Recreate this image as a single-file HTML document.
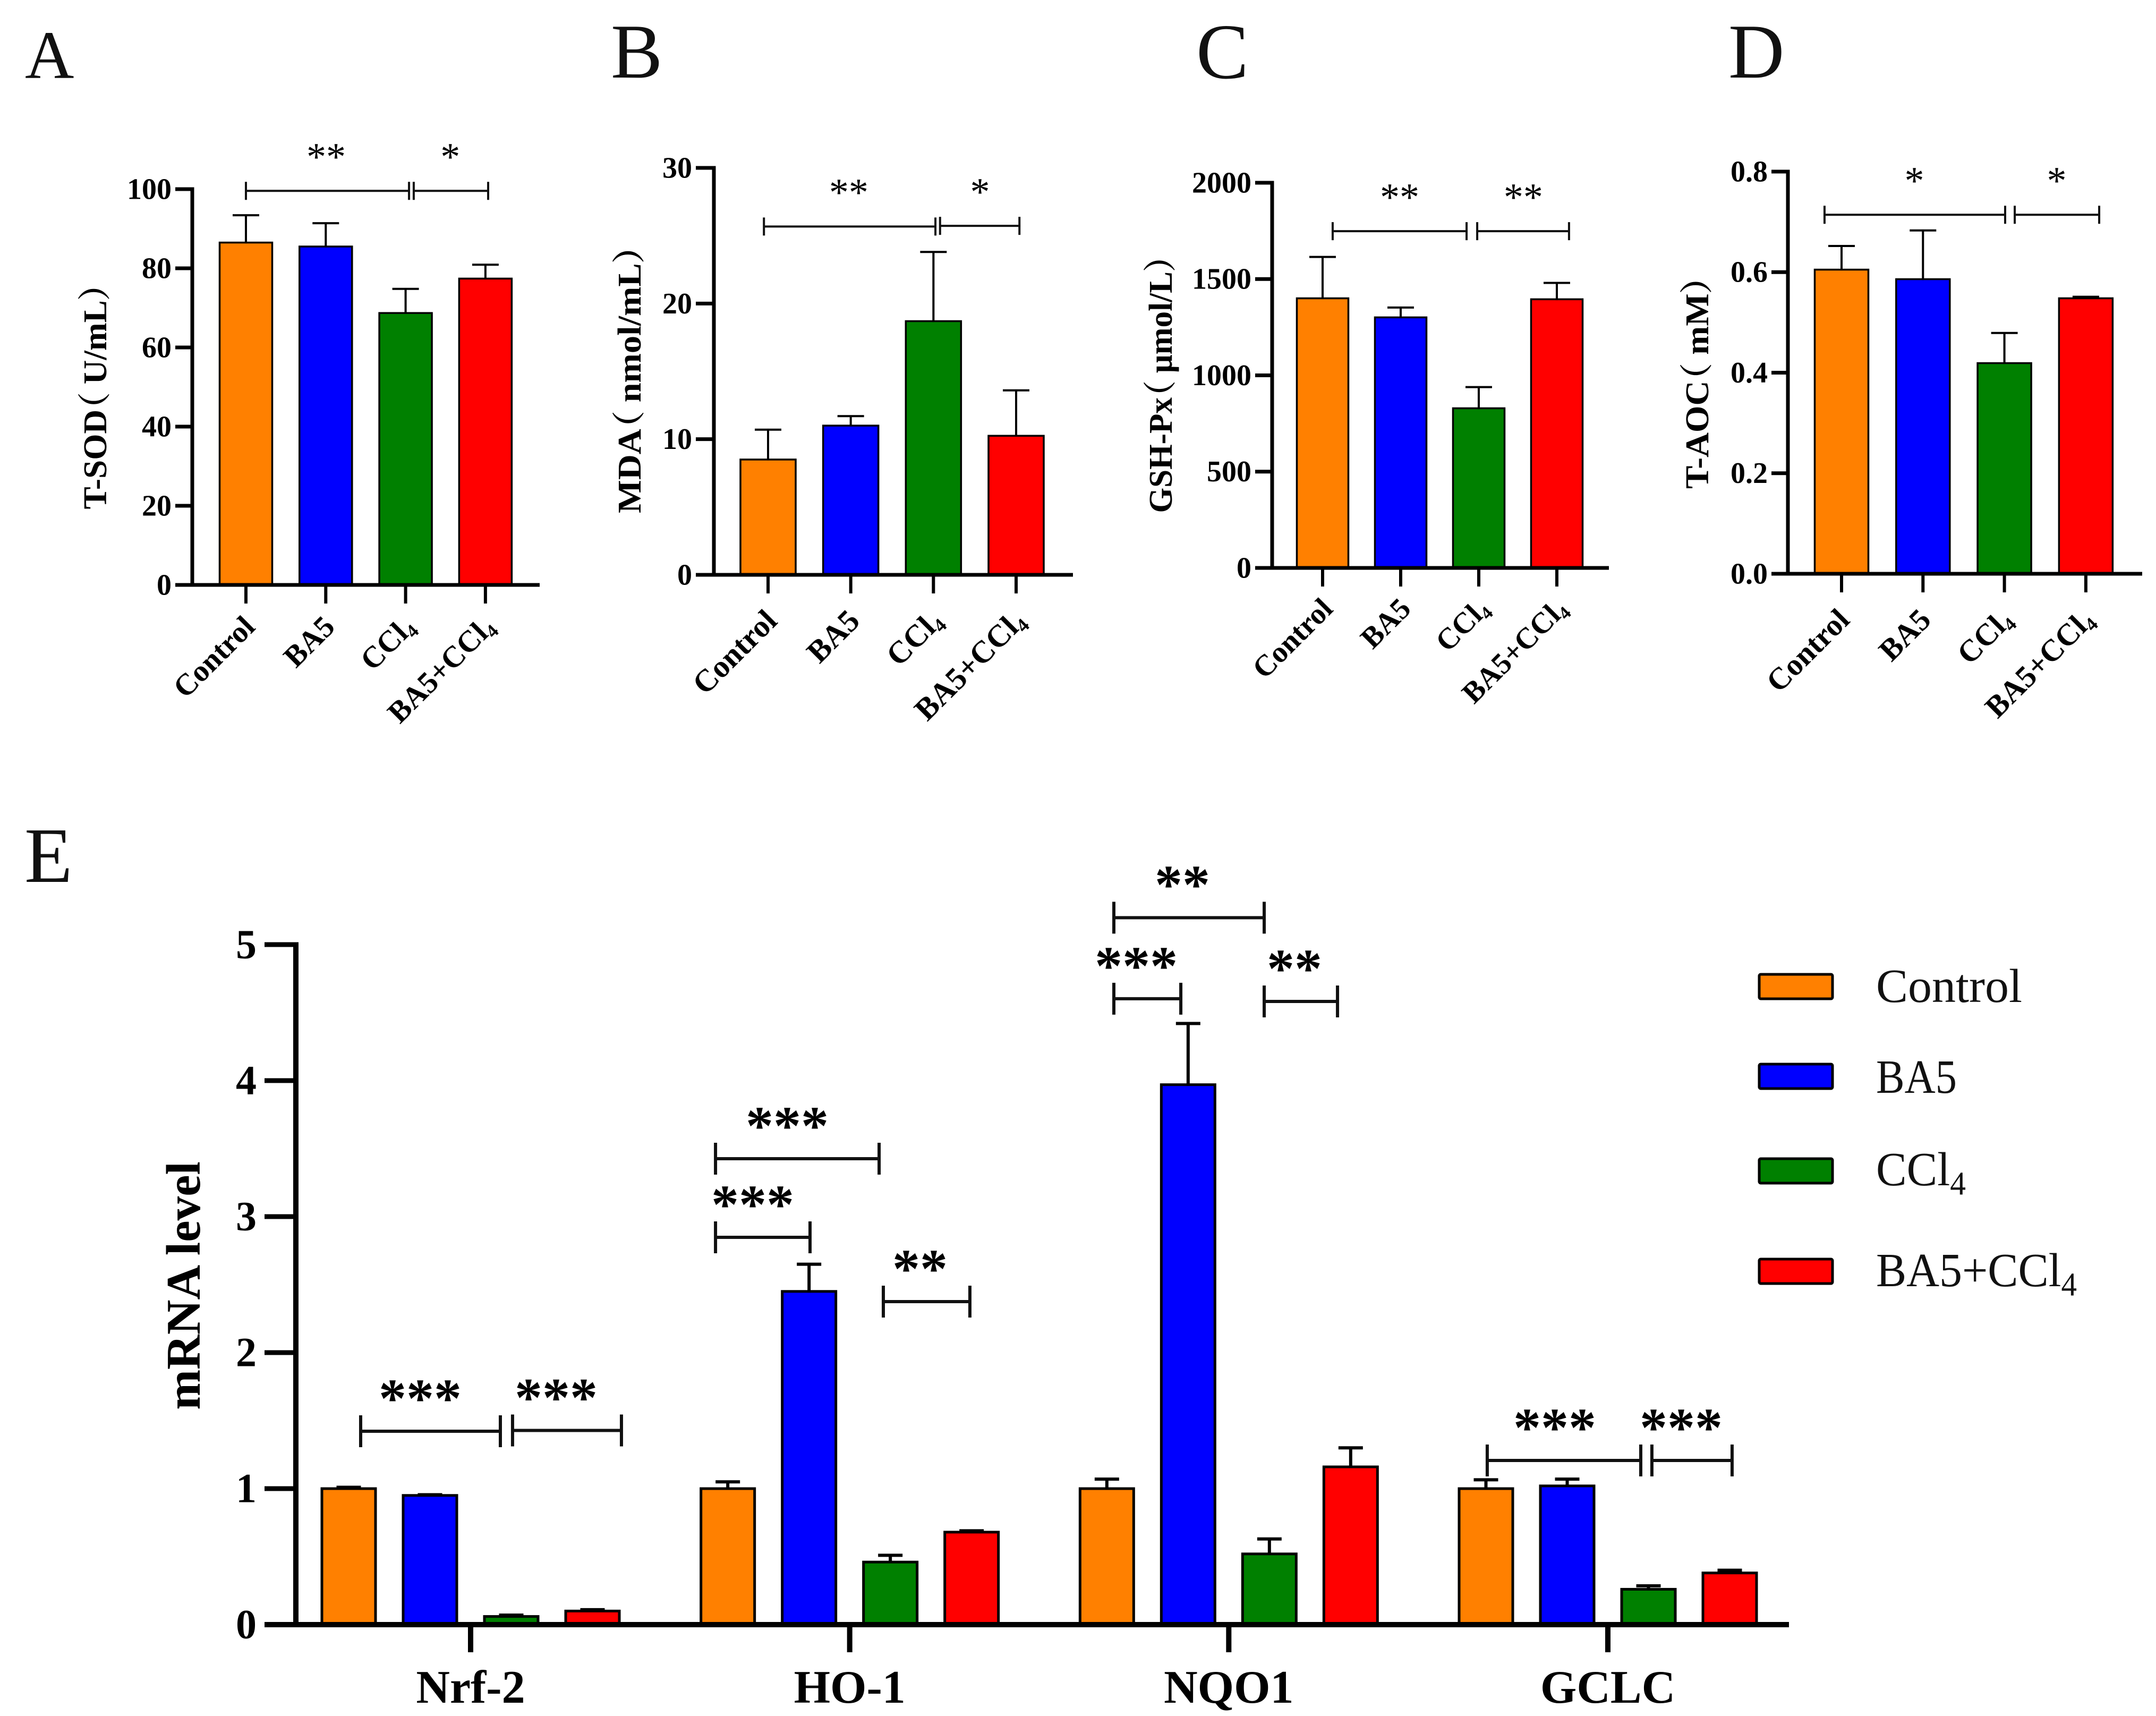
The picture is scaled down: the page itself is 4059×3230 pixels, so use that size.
<!DOCTYPE html>
<html>
<head>
<meta charset="utf-8">
<title>Antioxidant markers and mRNA levels</title>
<style>
html,body{margin:0;padding:0;background:#fff;}
svg{display:block;font-family:"Liberation Serif","Noto Serif CJK SC",serif;}
</style>
</head>
<body>
<svg id="figure" xmlns="http://www.w3.org/2000/svg" width="4059" height="3230" viewBox="0 0 4059 3230">
<rect width="4059" height="3230" fill="#fff"/>
</svg>
<script>
const groupNames = ['Control', 'BA5', 'CCl4', 'BA5+CCl4'];
const groupColors = ['#ff8000', '#0000ff', '#008000', '#ff0000'];

const sodValues = [86.5, 85.5, 68.7, 77.4];
const sodErrors = [6.9, 5.9, 6.1, 3.5];
const sodTicks = [0, 20, 40, 60, 80, 100];

const mdaValues = [8.5, 11, 18.7, 10.25];
const mdaErrors = [2.2, 0.7, 5.1, 3.35];
const mdaTicks = [0, 10, 20, 30];

const gshValues = [1400, 1301, 829, 1395];
const gshErrors = [215, 51, 110, 85];
const gshTicks = [0, 500, 1000, 1500, 2000];

const aocValues = [0.605, 0.586, 0.419, 0.548];
const aocErrors = [0.047, 0.097, 0.06, 0.003];
const aocTicks = ['0.0', '0.2', '0.4', '0.6', '0.8'];

const geneNames = ['Nrf-2', 'HO-1', 'NQO1', 'GCLC'];
const mrnaTicks = [0, 1, 2, 3, 4, 5];
const controlMrna = [1.0, 1.0, 1.0, 1.0];
const controlMrnaErr = [0.01, 0.05, 0.07, 0.065];
const ba5Mrna = [0.95, 2.45, 3.97, 1.02];
const ba5MrnaErr = [0.005, 0.2, 0.45, 0.05];
const ccl4Mrna = [0.06, 0.46, 0.52, 0.26];
const ccl4MrnaErr = [0.01, 0.05, 0.11, 0.025];
const comboMrna = [0.10, 0.68, 1.16, 0.38];
const comboMrnaErr = [0.01, 0.01, 0.14, 0.02];

const svg = document.getElementById('figure');
const NS = 'http://www.w3.org/2000/svg';

function mk(tag, attrs, parent) {
  const e = document.createElementNS(NS, tag);
  for (const k in attrs) e.setAttribute(k, attrs[k]);
  (parent || svg).appendChild(e);
  return e;
}
function line(p, x1, y1, x2, y2, w, color) {
  return mk('line', {x1: x1, y1: y1, x2: x2, y2: y2, stroke: color || '#000', 'stroke-width': w}, p);
}
function setLabel(t, label, subSize) {
  if (label.endsWith('CCl4')) {
    t.appendChild(document.createTextNode(label.slice(0, -1)));
    const s = mk('tspan', {'font-size': subSize, dy: subSize * 0.28}, t);
    s.textContent = '4';
  } else {
    t.textContent = label;
  }
}

function makeAxes(g, o) {
  const ax = line(g, o.x0, o.yTop - o.tickW / 2, o.x0, o.y0, o.axisW);
  
  
  const xa = line(g, o.xLeft, o.y0, o.xRight, o.y0, o.axisW);
  
  
  o.ticks.forEach(function (v) {
    const y = o.y(+v);
    const tm = line(g, o.xLeft, y, o.x0, y, o.tickW);
    
    
    const tl = mk('text', {x: o.xLeft - o.labelGap, y: y + o.tickFont * 0.33, 'text-anchor': 'end', 'font-size': o.tickFont, 'font-weight': 'bold', fill: '#000'}, g);
    tl.textContent = v;
    
    
  });
}

function drawBar(g, id, cx, bw, o, value, err, color) {
  const yTop = o.y(value);
  const yErr = o.y(value + err);
  const ev = line(g, cx, yTop, cx, yErr, o.errW);
  
  
  const cap = line(g, cx - o.capW / 2, yErr, cx + o.capW / 2, yErr, o.errW);
  
  
  const r = mk('rect', {x: cx - bw / 2, y: yTop, width: bw, height: Math.max(0, o.y0 - yTop), fill: color, stroke: '#000', 'stroke-width': o.barStroke}, g);
  
  
}

function bracket(g, id, xA, xB, xLabel, yv, label, o) {
  const y = o.y(yv) - o.brShift;
  const x1 = o.x(xA), x2 = o.x(xB);
  const b = mk('path', {d: 'M' + x1 + ' ' + (y - o.capH) + 'V' + (y + o.capH) + 'M' + x1 + ' ' + y + 'H' + x2 + 'M' + x2 + ' ' + (y - o.capH) + 'V' + (y + o.capH), fill: 'none', stroke: '#111', 'stroke-width': o.brW}, g);
  
  
  const t = mk('text', {x: o.x(xLabel), y: y - o.starUp + o.starFont * 0.47, 'text-anchor': 'middle', 'font-size': o.starFont, 'font-weight': o.starWeight, fill: '#000'}, g);
  t.textContent = label;
  
  
}

function smallPanel(o, values, errors, title) {
  const g = mk('g', {});
  
  
  o.tickW = 7; o.axisW = 7; o.tickFont = 56; o.labelGap = 7; o.errW = 4; o.capW = 50; o.barStroke = 3.5;
  o.capH = 17; o.brW = 4; o.starFont = 74; o.starUp = 74; o.starWeight = 'normal'; o.brShift = 2;
  o.y = function (v) { return o.y0 - (v / o.max) * (o.y0 - o.yTop); };
  o.x = function (i) { return o.first + i * o.step; };
  groupNames.forEach(function (n, i) {
    drawBar(g, o.id + '-bar-' + i, o.x(i), o.barW, o, values[i], errors[i], groupColors[i]);
  });
  makeAxes(g, o);
  groupNames.forEach(function (n, i) {
    const cx = o.x(i);
    const tk = line(g, cx, o.y0, cx, o.y0 + 35, 6);
    
    
    const ax = cx + 28 + o.labelDx, ay = o.y0 + 72 + o.labelDy;
    const t = mk('text', {x: ax, y: ay, transform: 'rotate(-45 ' + ax + ' ' + ay + ')', 'text-anchor': 'end', 'font-size': o.labelFont, 'font-weight': 'bold', fill: '#000'}, g);
    setLabel(t, n, o.labelFont * 0.62);
    
    
  });
  const ty = mk('text', {x: o.titleX, y: o.titleY, transform: 'rotate(-90 ' + o.titleX + ' ' + o.titleY + ')', 'text-anchor': 'middle', 'font-size': 62, 'font-weight': 'bold', fill: '#000', textLength: o.titleLen, lengthAdjust: 'spacingAndGlyphs', style: 'font-feature-settings:"palt"'}, g);
  ty.textContent = title;
  
  
  return {g: g, o: o};
}

function panelLetter(letter, x, y, size) {
  const t = mk('text', {x: x, y: y, 'font-size': size, fill: '#111'});
  t.textContent = letter;
  
  
}

panelLetter('A', 47, 147, 128);
panelLetter('B', 1150, 146, 146);
panelLetter('C', 2252, 147, 148);
panelLetter('D', 3254, 146, 146);
panelLetter('E', 46, 1660, 148);

const pa = smallPanel({id: 'sod', x0: 362, xLeft: 330, xRight: 1016, y0: 1101, yTop: 356, max: 100, first: 463, step: 150.3, barW: 99, ticks: sodTicks, titleX: 200, titleY: 746, titleLen: 425, labelDx: -8, labelDy: 10, labelFont: 57}, sodValues, sodErrors, 'T-SOD（ U/mL）');
bracket(pa.g, 'sod-control-ccl4', 0, 2.043, 1.005, 99.3, '**', pa.o);
bracket(pa.g, 'sod-ccl4-combo', 2.102, 3.034, 2.56, 99.3, '*', pa.o);

const pb = smallPanel({id: 'mda', x0: 1344, xLeft: 1310, xRight: 2020, y0: 1082, yTop: 316, max: 30, first: 1446, step: 155.67, barW: 104, ticks: mdaTicks, titleX: 1206, titleY: 714, titleLen: 504, labelDx: -8, labelDy: 18, labelFont: 59}, mdaValues, mdaErrors, 'MDA（ nmol/mL）');
bracket(pb.g, 'mda-control-ccl4', -0.05, 2.024, 0.976, 25.6, '**', pb.o);
bracket(pb.g, 'mda-ccl4-combo', 2.08, 3.04, 2.563, 25.65, '*', pb.o);

const pc = smallPanel({id: 'gsh', x0: 2395, xLeft: 2363, xRight: 3029, y0: 1069, yTop: 344, max: 2000, first: 2490, step: 147, barW: 97, ticks: gshTicks, titleX: 2206, titleY: 723, titleLen: 485, labelDx: -6, labelDy: 8, labelFont: 56}, gshValues, gshErrors, 'GSH-Px（ μmol/L）');
bracket(pc.g, 'gsh-control-ccl4', 0.129, 1.844, 0.986, 1743, '**', pc.o);
bracket(pc.g, 'gsh-ccl4-combo', 1.98, 3.156, 2.571, 1743, '**', pc.o);

const pd = smallPanel({id: 'aoc', x0: 3366, xLeft: 3335, xRight: 4033, y0: 1080, yTop: 323, max: 0.8, first: 3467, step: 153.3, barW: 101, ticks: aocTicks, titleX: 3216, titleY: 720, titleLen: 400, labelDx: -10, labelDy: 18, labelFont: 58}, aocValues, aocErrors, 'T-AOC（ mM）');
bracket(pd.g, 'aoc-control-ccl4', -0.209, 2.009, 0.894, 0.712, '*', pd.o);
bracket(pd.g, 'aoc-ccl4-combo', 2.127, 3.164, 2.642, 0.712, '*', pd.o);

const eg = mk('g', {});


const eo = {id: 'mrna', x0: 557, xLeft: 498, xRight: 3368, y0: 3058, yTop: 1778, max: 5, ticks: mrnaTicks, tickW: 9, axisW: 10, tickFont: 78, labelGap: 15, errW: 6, capW: 46, barStroke: 5, barW: 101, capH: 30, brW: 6, starFont: 104, starUp: 76, starWeight: 'bold', brShift: 2};
eo.y = function (v) { return eo.y0 - (v / eo.max) * (eo.y0 - eo.yTop); };
const geneX = function (g) { return 886 + g * 713.67; };
const barX = function (g, s) { return geneX(g) + (s - 1.5) * 153; };
const seriesVals = [controlMrna, ba5Mrna, ccl4Mrna, comboMrna];
const seriesErrs = [controlMrnaErr, ba5MrnaErr, ccl4MrnaErr, comboMrnaErr];
geneNames.forEach(function (n, g) {
  seriesVals.forEach(function (vals, s) {
    drawBar(eg, 'mrna-bar-' + n.toLowerCase() + '-' + s, barX(g, s), eo.barW, eo, vals[g], seriesErrs[s][g], groupColors[s]);
  });
});
makeAxes(eg, eo);
geneNames.forEach(function (n, g) {
  const cx = geneX(g);
  const tk = line(eg, cx, eo.y0, cx, eo.y0 + 52, 10);
  
  
  const t = mk('text', {x: cx, y: 3205, 'text-anchor': 'middle', 'font-size': 88, 'font-weight': 'bold', fill: '#000'}, eg);
  t.textContent = n;
  
  
});
const ety = mk('text', {x: 376, y: 2420, transform: 'rotate(-90 376 2420)', 'text-anchor': 'middle', 'font-size': 91, 'font-weight': 'bold', fill: '#000'}, eg);
ety.textContent = 'mRNA level';



function geneBracket(id, g, sA, sB, sLabel, yv, label) {
  eo.x = function (s) { return barX(g, s); };
  bracket(eg, id, sA, sB, sLabel, yv, label, eo);
}
geneBracket('nrf2-control-ccl4', 0, 0.147, 1.866, 0.879, 1.414, '***');
geneBracket('nrf2-ccl4-combo', 0, 2.016, 3.356, 2.552, 1.42, '***');
geneBracket('ho1-control-ccl4', 1, -0.151, 1.862, 0.731, 3.418, '***');
geneBracket('ho1-control-ba5', 1, -0.151, 1.012, 0.306, 2.84, '***');
geneBracket('ho1-ccl4-combo', 1, 1.914, 2.979, 2.365, 2.367, '**');
geneBracket('nqo1-control-ccl4', 2, 0.086, 1.936, 0.929, 5.19, '**');
geneBracket('nqo1-control-ba5', 2, 0.086, 0.91, 0.361, 4.594, '***');
geneBracket('nqo1-ccl4-combo', 2, 1.936, 2.838, 2.308, 4.574, '**');
geneBracket('gclc-control-ccl4', 3, 0.016, 1.905, 0.846, 1.199, '***');
geneBracket('gclc-ccl4-combo', 3, 2.042, 3.029, 2.402, 1.199, '***');

const legend = mk('g', {});


function legendEntry(i, boxTop, baseline, len) {
  const r = mk('rect', {x: 3312, y: boxTop, width: 138, height: 46, fill: groupColors[i], stroke: '#000', 'stroke-width': 5, rx: 3}, legend);
  
  
  const t = mk('text', {x: 3532, y: baseline, 'font-size': 90, fill: '#111', textLength: len, lengthAdjust: 'spacingAndGlyphs'}, legend);
  setLabel(t, groupNames[i], 62);
  
  
}
legendEntry(0, 1834, 1886, 275);
legendEntry(1, 2003, 2057, 152);
legendEntry(2, 2181, 2231, 169);
legendEntry(3, 2370, 2421, 378);
</script>
</body>
</html>
